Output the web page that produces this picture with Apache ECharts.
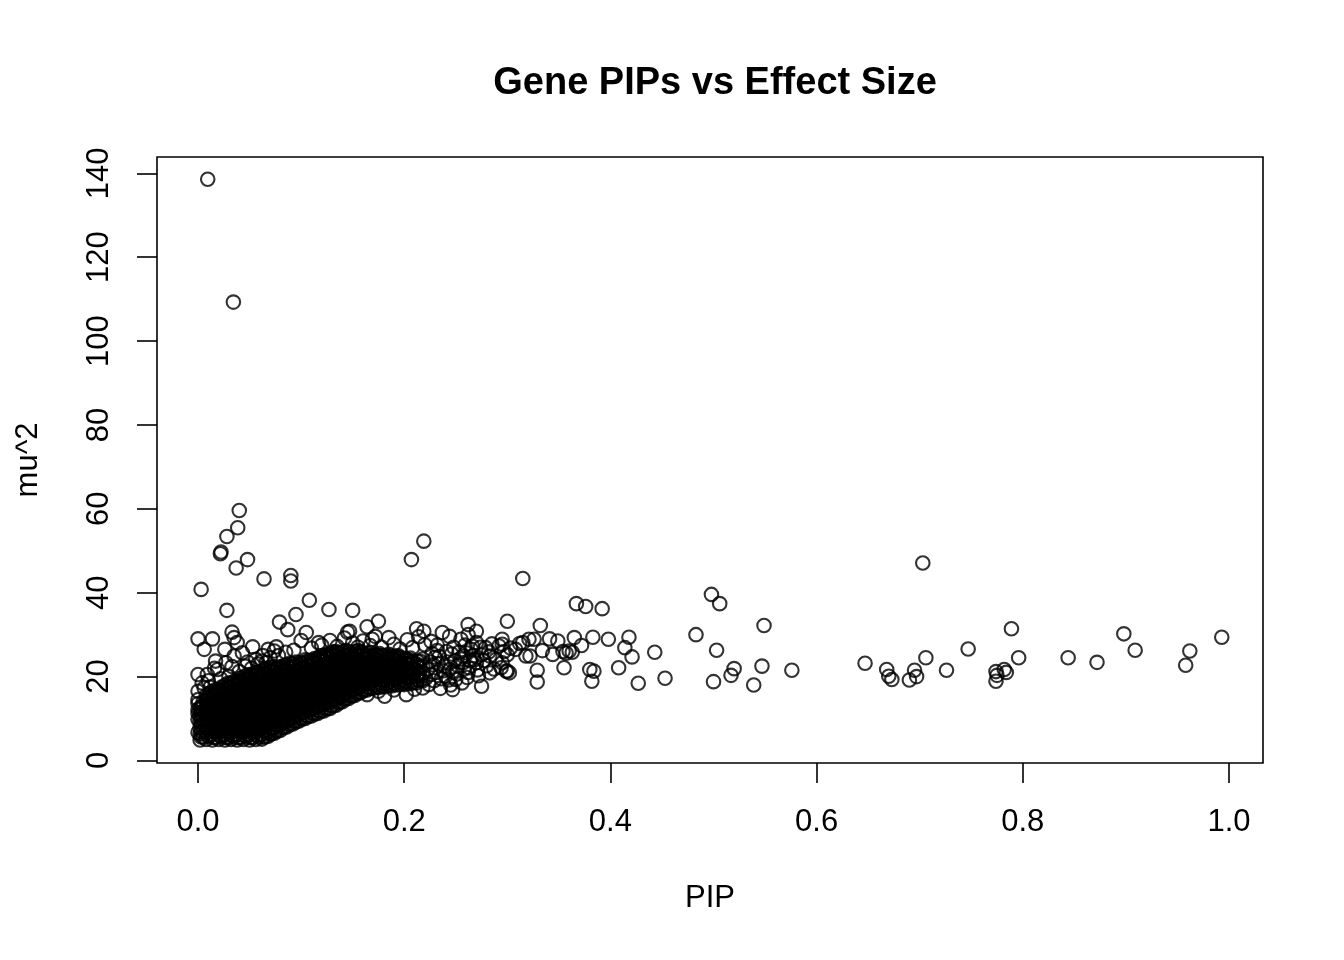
<!DOCTYPE html>
<html>
<head>
<meta charset="utf-8">
<title>Gene PIPs vs Effect Size</title>
<script src="https://cdn.jsdelivr.net/npm/echarts@6.0.0/dist/echarts.min.js"></script>
<style>
  html, body { margin: 0; padding: 0; background: #fff; }
  #chart { width: 1344px; height: 960px; }
</style>
</head>
<body>
<div id="chart"></div>
<script>
// tick labels
const xTicks = [0, 0.2, 0.4, 0.6, 0.8, 1.0]
const yTicks = [0, 20, 40, 60, 80, 100, 120, 140]

// isolated high points and the sparse right-hand spread, [PIP, mu^2]
const outliers = [
  [0.0094, 138.6], [0.0343, 109.3], [0.040, 59.6], [0.0385, 55.5], [0.028, 53.4], [0.219, 52.3],
  [0.0223, 49.7], [0.0217, 49.3], [0.048, 47.9], [0.207, 47.9], [0.037, 45.9], [0.064, 43.3],
  [0.090, 44.1], [0.090, 42.8], [0.003, 40.8], [0.108, 38.2], [0.028, 35.8], [0.127, 36.0],
  [0.150, 35.8], [0.095, 34.8], [0.079, 33.0], [0.087, 31.2], [0.175, 33.2], [0.164, 31.9],
  [0.300, 33.2], [0.000, 29.0], [0.014, 29.0], [0.033, 30.6], [0.035, 29.3], [0.006, 26.5],
  [0.026, 26.5], [0.053, 27.1], [0.068, 26.5], [0.076, 27.1], [0.100, 28.6], [0.145, 30.6],
  [0.212, 31.4], [0.262, 32.4], [0.270, 30.8], [0.000, 20.5], [0.000, 16.5], [0.000, 13.6],
  [0.000, 11.2], [0.275, 17.7], [0.247, 16.9], [0.202, 15.7], [0.181, 15.3], [0.164, 15.7],
  [0.299, 21.3], [0.283, 20.9]
]

const spread = [
  [0.315, 43.4], [0.367, 37.4], [0.376, 36.7], [0.392, 36.2], [0.332, 32.2], [0.321, 28.9],
  [0.326, 28.9], [0.341, 29.0], [0.349, 28.5], [0.365, 29.3], [0.372, 27.4], [0.383, 29.4],
  [0.398, 28.9], [0.418, 29.4], [0.414, 26.9], [0.421, 24.7], [0.443, 25.8], [0.334, 26.2],
  [0.322, 24.9], [0.344, 25.3], [0.354, 26.0], [0.357, 25.6], [0.360, 26.1], [0.363, 25.8],
  [0.355, 22.1], [0.329, 21.5], [0.329, 18.7], [0.380, 21.7], [0.384, 21.3], [0.382, 18.9],
  [0.408, 22.1], [0.427, 18.4], [0.453, 19.6], [0.483, 30.0], [0.498, 39.6], [0.506, 37.4],
  [0.503, 26.3], [0.500, 18.8], [0.520, 21.9], [0.517, 20.3], [0.539, 18.0], [0.547, 22.5],
  [0.549, 32.2], [0.576, 21.5], [0.647, 23.2], [0.668, 21.7], [0.670, 20.1], [0.673, 19.3],
  [0.703, 47.1], [0.706, 24.5], [0.695, 21.5], [0.697, 20.0], [0.690, 19.2], [0.726, 21.5],
  [0.747, 26.6], [0.789, 31.4], [0.796, 24.5], [0.774, 21.2], [0.782, 21.7], [0.784, 21.0],
  [0.774, 18.9], [0.775, 20.3], [0.844, 24.5], [0.872, 23.4], [0.898, 30.2], [0.909, 26.3],
  [0.962, 26.1], [0.958, 22.7], [0.993, 29.4]
]

// loose circles round the edge of the dense band
const fringe = [
  [0.038, 28.1], [0.043, 25.7], [0.062, 23.7], [0.074, 26.1], [0.009, 20.5], [0.019, 21.7],
  [0.027, 23.3], [0.017, 23.7], [0.035, 24.9], [0.046, 22.5], [0.056, 24.1], [0.006, 17.3],
  [0.000, 14.5], [0.000, 12.2], [0.000, 9.8], [0.000, 6.7], [0.117, 28.1], [0.105, 30.5],
  [0.147, 30.8], [0.219, 30.8], [0.237, 30.5], [0.185, 29.3], [0.169, 28.9], [0.244, 29.6],
  [0.255, 28.9], [0.295, 28.9], [0.315, 28.1], [0.308, 26.5], [0.295, 27.7], [0.292, 27.3],
  [0.270, 28.1], [0.266, 27.3], [0.279, 26.9], [0.318, 24.9], [0.250, 19.3], [0.263, 22.1],
  [0.270, 23.3], [0.257, 23.3], [0.240, 20.1], [0.244, 21.7], [0.224, 18.1], [0.218, 17.3],
  [0.283, 24.9], [0.289, 24.1], [0.295, 23.3], [0.260, 25.7], [0.257, 24.9], [0.294, 22.1],
  [0.300, 21.3], [0.302, 20.9], [0.004, 18.5], [0.010, 19.0], [0.012, 17.5], [0.022, 19.5],
  [0.030, 20.0], [0.016, 22.0], [0.040, 21.2], [0.033, 22.4], [0.048, 23.5], [0.052, 22.0],
  [0.058, 23.0], [0.063, 25.0], [0.066, 23.3], [0.120, 27.5], [0.128, 28.6], [0.135, 27.2],
  [0.142, 29.2], [0.150, 28.0], [0.155, 27.0], [0.160, 28.5], [0.167, 27.4], [0.172, 29.6],
  [0.178, 27.0], [0.190, 27.7], [0.196, 26.6], [0.203, 28.8], [0.208, 26.9], [0.214, 29.5],
  [0.220, 27.6], [0.226, 28.4], [0.232, 27.5], [0.262, 30.0], [0.110, 26.8], [0.093, 26.3],
  [0.085, 25.8], [0.078, 25.0], [0.070, 24.5], [0.226, 20.5], [0.228, 22.8], [0.230, 24.6],
  [0.232, 26.2], [0.236, 19.5], [0.238, 21.4], [0.242, 23.5], [0.246, 25.4], [0.248, 27.0],
  [0.252, 22.6], [0.255, 24.2], [0.262, 21.0], [0.265, 26.5], [0.268, 24.0], [0.272, 20.2],
  [0.275, 25.2], [0.280, 22.6], [0.285, 27.8], [0.297, 26.0], [0.300, 25.2], [0.303, 26.8],
  [0.312, 27.9], [0.256, 18.5], [0.235, 17.2], [0.245, 18.0], [0.175, 16.5], [0.190, 16.8],
  [0.210, 17.0], [0.221, 19.6], [0.223, 21.8], [0.225, 23.5], [0.227, 25.5], [0.229, 19.0],
  [0.231, 21.0], [0.233, 23.0], [0.234, 24.8], [0.239, 22.5], [0.241, 26.0], [0.243, 19.2],
  [0.247, 21.2], [0.249, 23.8], [0.251, 20.6], [0.253, 25.8], [0.258, 21.8], [0.259, 27.5],
  [0.261, 19.8], [0.264, 23.8], [0.267, 25.0], [0.271, 21.6], [0.274, 27.0], [0.277, 23.8],
  [0.282, 25.9], [0.287, 21.8]
]

// the solid black band, read column by column: [PIP, [mu^2 ...]]
const coreColumns = [
  [0.002, [4.9, 6.3, 7.8, 9.3, 10.8, 12.3]],
  [0.008, [5.0, 6.8, 8.3, 9.8, 11.3, 12.8, 14.3, 15.5]],
  [0.014, [4.9, 6.2, 7.6, 9.1, 10.6, 12.1, 13.6, 15.1, 16.4]],
  [0.020, [5.0, 6.9, 8.4, 9.9, 11.4, 12.9, 14.4, 15.9, 17.0]],
  [0.026, [4.9, 6.1, 7.6, 9.1, 10.6, 12.1, 13.6, 15.1, 16.6, 17.9]],
  [0.032, [5.0, 6.8, 8.3, 9.8, 11.3, 12.8, 14.3, 15.8, 17.3, 18.5]],
  [0.038, [4.9, 6.2, 7.7, 9.2, 10.7, 12.2, 13.7, 15.2, 16.7, 18.0, 19.0]],
  [0.044, [5.0, 6.9, 8.4, 9.9, 11.4, 12.9, 14.4, 15.9, 17.4, 18.8, 19.9]],
  [0.050, [4.9, 6.2, 7.7, 9.2, 10.7, 12.2, 13.7, 15.2, 16.7, 18.2, 19.6, 20.5]],
  [0.056, [5.0, 6.9, 8.4, 9.9, 11.4, 12.9, 14.4, 15.9, 17.4, 18.9, 20.2, 21.0]],
  [0.062, [5.1, 6.3, 7.8, 9.3, 10.8, 12.3, 13.8, 15.3, 16.8, 18.3, 19.8, 21.3]],
  [0.068, [5.8, 7.0, 8.5, 10.0, 11.5, 13.0, 14.5, 16.0, 17.5, 19.0, 20.5, 21.9]],
  [0.074, [6.5, 7.8, 9.3, 10.8, 12.3, 13.8, 15.3, 16.8, 18.3, 19.8, 21.3, 22.4]],
  [0.080, [7.2, 8.6, 10.1, 11.6, 13.1, 14.6, 16.1, 17.6, 19.1, 20.6, 22.0]],
  [0.086, [8.0, 9.4, 10.9, 12.4, 13.9, 15.4, 16.9, 18.4, 19.9, 21.4, 22.8]],
  [0.092, [8.7, 10.1, 11.6, 13.1, 14.6, 16.1, 17.6, 19.1, 20.6, 22.0, 23.0]],
  [0.098, [9.4, 10.8, 12.3, 13.8, 15.3, 16.8, 18.3, 19.8, 21.3, 22.7]],
  [0.104, [10.0, 11.5, 13.0, 14.5, 16.0, 17.5, 19.0, 20.5, 22.0, 23.4, 24.0]],
  [0.110, [10.6, 12.1, 13.6, 15.1, 16.6, 18.1, 19.6, 21.1, 22.6, 23.9]],
  [0.116, [11.2, 12.7, 14.2, 15.7, 17.2, 18.7, 20.2, 21.7, 23.2, 24.4]],
  [0.122, [11.8, 13.3, 14.8, 16.3, 17.8, 19.3, 20.8, 22.3, 23.8, 25.0]],
  [0.128, [12.4, 13.9, 15.4, 16.9, 18.4, 19.9, 21.4, 22.9, 24.4, 25.5]],
  [0.134, [13.2, 14.6, 16.1, 17.6, 19.1, 20.6, 22.1, 23.6, 25.0, 26.0]],
  [0.140, [14.0, 15.4, 16.9, 18.4, 19.9, 21.4, 22.9, 24.4, 25.8]],
  [0.146, [14.8, 16.2, 17.7, 19.2, 20.7, 22.2, 23.7, 25.1, 26.0]],
  [0.152, [15.5, 16.9, 18.4, 19.9, 21.4, 22.9, 24.4, 25.9]],
  [0.158, [16.2, 17.6, 19.1, 20.6, 22.1, 23.6, 25.0, 26.0]],
  [0.164, [16.8, 18.3, 19.8, 21.3, 22.8, 24.3, 25.5]],
  [0.170, [17.2, 18.9, 20.4, 21.9, 23.4, 24.9]],
  [0.176, [17.4, 18.6, 20.1, 21.6, 23.1, 24.6, 25.5]],
  [0.182, [17.6, 19.2, 20.7, 22.2, 23.7, 25.0]],
  [0.188, [17.8, 19.0, 20.5, 22.0, 23.5, 24.9]],
  [0.194, [18.0, 19.6, 21.1, 22.6, 24.1, 25.0]],
  [0.200, [18.1, 19.4, 20.9, 22.4, 23.9]],
  [0.206, [18.3, 19.9, 21.4, 22.9, 24.4]],
  [0.212, [18.5, 20.0, 21.5, 23.0]],
  [0.218, [19.0, 20.8, 22.5, 24.2]]
]

// second pass over the band, between the columns above
const coreColumnsB = [
  [0.005, [5.6, 7.1, 8.6, 10.1, 11.6, 13.1, 14.0]],
  [0.011, [5.7, 7.4, 8.9, 10.4, 11.9, 13.4, 14.9, 16.0]],
  [0.017, [5.5, 7.0, 8.5, 10.0, 11.5, 13.0, 14.5, 16.0, 16.9]],
  [0.023, [5.6, 7.3, 8.8, 10.3, 11.8, 13.3, 14.8, 16.3, 17.5]],
  [0.029, [5.5, 7.0, 8.5, 10.0, 11.5, 13.0, 14.5, 16.0, 17.5, 18.4]],
  [0.035, [5.6, 7.4, 8.9, 10.4, 11.9, 13.4, 14.9, 16.4, 17.9, 18.9]],
  [0.041, [5.5, 7.0, 8.5, 10.0, 11.5, 13.0, 14.5, 16.0, 17.5, 18.9, 19.6]],
  [0.047, [5.6, 7.5, 9.0, 10.5, 12.0, 13.5, 15.0, 16.5, 18.0, 19.4, 20.3]],
  [0.053, [5.5, 7.0, 8.5, 10.0, 11.5, 13.0, 14.5, 16.0, 17.5, 19.0, 20.5]],
  [0.059, [5.6, 7.6, 9.1, 10.6, 12.1, 13.6, 15.1, 16.6, 18.1, 19.6, 21.0]],
  [0.065, [5.6, 7.1, 8.6, 10.1, 11.6, 13.1, 14.6, 16.1, 17.6, 19.1, 20.6, 21.8]],
  [0.071, [6.3, 7.8, 9.3, 10.8, 12.3, 13.8, 15.3, 16.8, 18.3, 19.8, 21.3, 22.3]],
  [0.077, [7.0, 8.5, 10.0, 11.5, 13.0, 14.5, 16.0, 17.5, 19.0, 20.5, 22.0]],
  [0.083, [7.8, 9.3, 10.8, 12.3, 13.8, 15.3, 16.8, 18.3, 19.8, 21.3, 22.6]],
  [0.089, [8.5, 10.0, 11.5, 13.0, 14.5, 16.0, 17.5, 19.0, 20.5, 22.0, 23.2]],
  [0.095, [9.2, 10.7, 12.2, 13.7, 15.2, 16.7, 18.2, 19.7, 21.2, 22.6, 23.5]],
  [0.101, [9.9, 11.4, 12.9, 14.4, 15.9, 17.4, 18.9, 20.4, 21.9, 23.2]],
  [0.107, [10.5, 12.0, 13.5, 15.0, 16.5, 18.0, 19.5, 21.0, 22.5, 23.8]],
  [0.113, [11.1, 12.6, 14.1, 15.6, 17.1, 18.6, 20.1, 21.6, 23.1, 24.3]],
  [0.119, [11.7, 13.2, 14.7, 16.2, 17.7, 19.2, 20.7, 22.2, 23.7, 24.9]],
  [0.125, [12.3, 13.8, 15.3, 16.8, 18.3, 19.8, 21.3, 22.8, 24.3, 25.3]],
  [0.131, [13.0, 14.5, 16.0, 17.5, 19.0, 20.5, 22.0, 23.5, 25.0, 25.9]],
  [0.137, [13.8, 15.3, 16.8, 18.3, 19.8, 21.3, 22.8, 24.3, 25.6]],
  [0.143, [14.6, 16.1, 17.6, 19.1, 20.6, 22.1, 23.6, 25.0, 26.2]],
  [0.149, [15.3, 16.8, 18.3, 19.8, 21.3, 22.8, 24.3, 25.6]],
  [0.155, [16.0, 17.5, 19.0, 20.5, 22.0, 23.5, 25.0, 26.2]],
  [0.161, [16.7, 18.2, 19.7, 21.2, 22.7, 24.2, 25.4]],
  [0.167, [17.2, 18.6, 20.1, 21.6, 23.1, 24.6, 25.7]],
  [0.173, [17.5, 19.4, 20.9, 22.4, 23.9, 25.2]],
  [0.179, [17.7, 19.0, 20.5, 22.0, 23.5, 25.0]],
  [0.185, [17.9, 19.6, 21.1, 22.6, 24.1, 25.3]],
  [0.191, [18.1, 19.3, 20.8, 22.3, 23.8, 24.8]],
  [0.197, [18.2, 20.0, 21.5, 23.0, 24.5]],
  [0.203, [18.4, 19.8, 21.3, 22.8, 24.1]],
  [0.209, [18.6, 20.4, 21.9, 23.4]],
  [0.215, [19.0, 20.7, 22.2, 23.7]]
]

// third pass, filling the gaps left by the first two
const coreColumnsC = [
  [0.003, [5.6, 7.0, 8.5, 10.0, 11.5, 12.8]],
  [0.009, [5.9, 7.5, 9.0, 10.5, 12.0, 13.5, 15.0]],
  [0.015, [5.5, 6.9, 8.3, 9.8, 11.3, 12.8, 14.3, 15.8]],
  [0.021, [5.9, 7.6, 9.1, 10.6, 12.1, 13.6, 15.1, 16.5]],
  [0.027, [5.5, 6.8, 8.3, 9.8, 11.3, 12.8, 14.3, 15.8, 17.3]],
  [0.033, [5.9, 7.5, 9.0, 10.5, 12.0, 13.5, 15.0, 16.5, 18.0]],
  [0.039, [5.5, 6.9, 8.4, 9.9, 11.4, 12.9, 14.4, 15.9, 17.4, 18.6]],
  [0.045, [5.9, 7.6, 9.1, 10.6, 12.1, 13.6, 15.1, 16.6, 18.1, 19.4]],
  [0.051, [5.5, 6.9, 8.4, 9.9, 11.4, 12.9, 14.4, 15.9, 17.4, 18.9, 20.1]],
  [0.057, [5.9, 7.6, 9.1, 10.6, 12.1, 13.6, 15.1, 16.6, 18.1, 19.6, 20.7]],
  [0.063, [5.6, 7.0, 8.5, 10.0, 11.5, 13.0, 14.5, 16.0, 17.5, 19.0, 20.5]],
  [0.069, [6.4, 7.7, 9.2, 10.7, 12.2, 13.7, 15.2, 16.7, 18.2, 19.7, 21.2]],
  [0.075, [7.1, 8.5, 10.0, 11.5, 13.0, 14.5, 16.0, 17.5, 19.0, 20.5, 21.9]],
  [0.081, [7.9, 9.3, 10.8, 12.3, 13.8, 15.3, 16.8, 18.3, 19.8, 21.3, 22.4]],
  [0.087, [8.7, 10.1, 11.6, 13.1, 14.6, 16.1, 17.6, 19.1, 20.6, 22.1]],
  [0.093, [9.4, 10.8, 12.3, 13.8, 15.3, 16.8, 18.3, 19.8, 21.3, 22.6]],
  [0.099, [10.1, 11.5, 13.0, 14.5, 16.0, 17.5, 19.0, 20.5, 22.0, 23.3]],
  [0.105, [10.7, 12.2, 13.7, 15.2, 16.7, 18.2, 19.7, 21.2, 22.7]],
  [0.111, [11.3, 12.8, 14.3, 15.8, 17.3, 18.8, 20.3, 21.8, 23.3]],
  [0.117, [11.9, 13.4, 14.9, 16.4, 17.9, 19.4, 20.9, 22.4, 23.9]],
  [0.123, [12.5, 14.0, 15.5, 17.0, 18.5, 20.0, 21.5, 23.0, 24.5]],
  [0.129, [13.1, 14.6, 16.1, 17.6, 19.1, 20.6, 22.1, 23.6, 25.0]],
  [0.135, [13.9, 15.3, 16.8, 18.3, 19.8, 21.3, 22.8, 24.3, 25.6]],
  [0.141, [14.7, 16.1, 17.6, 19.1, 20.6, 22.1, 23.6, 25.1]],
  [0.147, [15.5, 16.9, 18.4, 19.9, 21.4, 22.9, 24.4, 25.7]],
  [0.153, [16.2, 17.6, 19.1, 20.6, 22.1, 23.6, 25.1]],
  [0.159, [16.9, 18.3, 19.8, 21.3, 22.8, 24.3, 25.6]],
  [0.165, [17.5, 19.0, 20.5, 22.0, 23.5, 24.9]],
  [0.171, [17.9, 19.6, 21.1, 22.6, 24.1, 25.3]],
  [0.177, [18.0, 19.3, 20.8, 22.3, 23.8, 25.1]],
  [0.183, [18.3, 19.9, 21.4, 22.9, 24.4]],
  [0.189, [18.4, 19.7, 21.2, 22.7, 24.2]],
  [0.195, [18.7, 20.3, 21.8, 23.3, 24.6]],
  [0.201, [18.8, 20.1, 21.6, 23.1, 24.3]],
  [0.207, [19.0, 20.6, 22.1, 23.6]],
  [0.213, [19.2, 20.7, 22.2, 23.6]]
]

const core = coreColumns.concat(coreColumnsB, coreColumnsC).flatMap(([x, ys]) => ys.map((y) => [x, y]))
const points = core.concat(fringe, outliers, spread)

const font = 'Liberation Sans, Arial, Helvetica, sans-serif'
const myChart = echarts.init(document.getElementById('chart'), null, { renderer: 'canvas' })

const option = {
  animation: false,
  backgroundColor: '#fff',
  title: {
    text: 'Gene PIPs vs Effect Size',
    left: 710,
    top: 60,
    textAlign: 'center',
    textStyle: { fontFamily: font, fontSize: 38, fontWeight: 'bold', color: '#000' }
  },
  grid: {
    left: 157,
    top: 157,
    width: 1106,
    height: 606,
    show: true,
    borderColor: '#000',
    borderWidth: 1.6
  },
  xAxis: {
    type: 'value',
    min: -0.0398,
    max: 1.033,
    name: 'PIP',
    nameLocation: 'middle',
    nameGap: 120,
    nameTextStyle: { fontFamily: font, fontSize: 31, color: '#000' },
    axisLine: { show: false, onZero: false },
    splitLine: { show: false },
    axisTick: {
      show: true,
      length: 20,
      customValues: xTicks,
      lineStyle: { color: '#000', width: 1.6 }
    },
    axisLabel: {
      customValues: xTicks,
      margin: 44,
      fontFamily: font,
      fontSize: 31,
      color: '#000',
      formatter: (v) => v.toFixed(1)
    }
  },
  yAxis: {
    type: 'value',
    min: -0.6,
    max: 143.9,
    name: 'mu^2',
    nameLocation: 'middle',
    nameGap: 113,
    nameRotate: 90,
    nameTextStyle: { fontFamily: font, fontSize: 31, color: '#000' },
    axisLine: { show: false, onZero: false },
    splitLine: { show: false },
    axisTick: {
      show: true,
      length: 20,
      customValues: yTicks,
      lineStyle: { color: '#000', width: 1.6 }
    },
    axisLabel: {
      customValues: yTicks,
      rotate: 90,
      margin: 42,
      fontFamily: font,
      fontSize: 31,
      color: '#000'
    }
  },
  series: [
    {
      type: 'scatter',
      data: points,
      symbol: 'circle',
      symbolSize: 13.5,
      itemStyle: {
        color: 'rgba(0,0,0,0)',
        borderColor: '#000',
        borderWidth: 2.1
      },
      emphasis: { disabled: true }
    }
  ]
}

option && myChart.setOption(option)
</script>
</body>
</html>
